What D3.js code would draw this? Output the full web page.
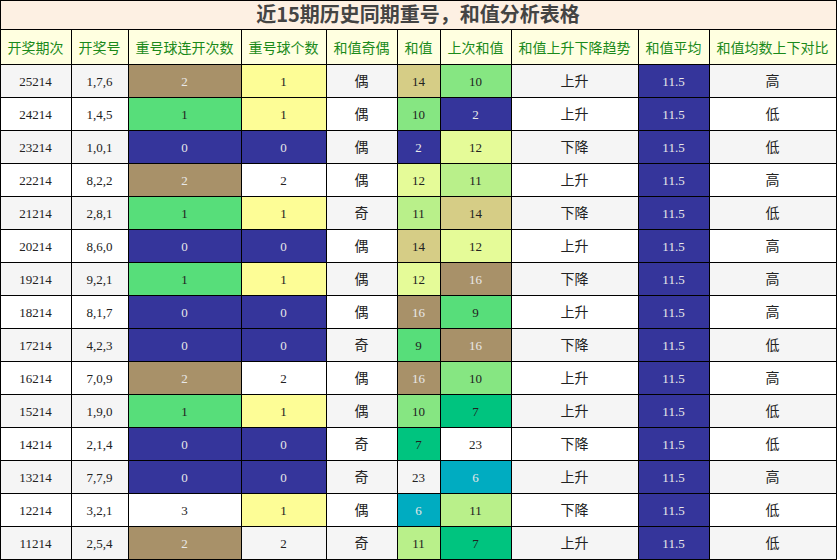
<!DOCTYPE html>
<html><head><meta charset="utf-8">
<script src="https://cdn.jsdelivr.net/npm/d3@7"></script>
<style>body{margin:0;background:#fff}</style>
</head><body>
<script>
var title = "近15期历史同期重号，和值分析表格";
var headers = ["开奖期次","开奖号","重号球连开次数","重号球个数","和值奇偶","和值","上次和值","和值上升下降趋势","和值平均","和值均数上下对比"];
var periods = ["25214","24214","23214","22214","21214","20214","19214","18214","17214","16214","15214","14214","13214","12214","11214"];
var numbers = ["1,7,6","1,4,5","1,0,1","8,2,2","2,8,1","8,6,0","9,2,1","8,1,7","4,2,3","7,0,9","1,9,0","2,1,4","7,7,9","3,2,1","2,5,4"];
var repeatRuns = [2,1,0,2,1,0,1,0,0,2,1,0,0,3,2];
var repeatCount = [1,1,0,2,1,0,1,0,0,2,1,0,0,1,2];
var parity = ["偶","偶","偶","偶","奇","偶","偶","偶","奇","偶","偶","奇","奇","偶","奇"];
var sums = [14,10,2,12,11,14,12,16,9,16,10,7,23,6,11];
var prevSums = [10,2,12,11,14,12,16,9,16,10,7,23,6,11,7];
var trend = ["上升","上升","下降","上升","下降","上升","下降","上升","下降","上升","上升","下降","上升","下降","上升"];
var avg = ["11.5","11.5","11.5","11.5","11.5","11.5","11.5","11.5","11.5","11.5","11.5","11.5","11.5","11.5","11.5"];
var compare = ["高","低","低","高","低","高","高","高","低","高","低","低","高","低","低"];

var colX = [0,71,128,241,326,397,440,511,638,709,836];
var titleH = 29, headH = 35, rowH = 33;

var runColor = {0:"#35359b",1:"#57de7a",2:"#a89169",3:null};
var cntColor = {0:"#35359b",1:"#fdfd96",2:null};
var sumColor = {2:"#35359b",6:"#00acc1",7:"#00c47f",9:"#57de7a",10:"#86e682",11:"#b9f08a",12:"#e5fb98",14:"#d6cd86",16:"#a89169",23:null};
var lightText = {"#35359b":1,"#a89169":1,"#00acc1":1};

var svg = d3.select("body").append("svg").attr("width",837).attr("height",560);

// title bar
svg.append("rect").attr("x",0.5).attr("y",0.5).attr("width",836).attr("height",titleH)
  .attr("fill","#fdf0e3").attr("stroke","#000");
svg.append("text").attr("x",418).attr("y",22).attr("text-anchor","middle")
  .attr("font-family","'Noto Sans CJK SC',sans-serif").attr("font-weight","bold")
  .attr("font-size",20).attr("fill","#444").text(title);

// header
headers.forEach(function(h,i){
  svg.append("rect").attr("x",colX[i]+0.5).attr("y",titleH+0.5)
    .attr("width",colX[i+1]-colX[i]).attr("height",headH)
    .attr("fill","#ffffe0").attr("stroke","#000");
  svg.append("text").attr("x",(colX[i]+colX[i+1])/2).attr("y",titleH+headH/2+6)
    .attr("text-anchor","middle").attr("font-family","'Noto Sans CJK SC',sans-serif")
    .attr("font-size",14).attr("fill","#1a8a1a").text(h);
});

var y = d3.scaleBand().domain(d3.range(periods.length)).range([titleH+headH, titleH+headH+rowH*periods.length]);

periods.forEach(function(p,r){
  var base = r%2===0 ? "#f5f5f5" : "#ffffff";
  var cells = [
    [p,null,false],[numbers[r],null,false],
    [repeatRuns[r],runColor[repeatRuns[r]],false],
    [repeatCount[r],cntColor[repeatCount[r]],false],
    [parity[r],null,true],
    [sums[r],sumColor[sums[r]],false],
    [prevSums[r],sumColor[prevSums[r]],false],
    [trend[r],null,true],
    [avg[r],"#35359b",false],
    [compare[r],null,true]
  ];
  cells.forEach(function(c,i){
    var fill = c[1] || base;
    svg.append("rect").attr("x",colX[i]+0.5).attr("y",y(r)+0.5)
      .attr("width",colX[i+1]-colX[i]).attr("height",y.bandwidth())
      .attr("fill",fill).attr("stroke","#000");
    svg.append("text").attr("x",(colX[i]+colX[i+1])/2).attr("y",y(r)+y.bandwidth()/2+5)
      .attr("text-anchor","middle")
      .attr("font-family", c[2] ? "'Noto Sans CJK SC',sans-serif" : "'Liberation Serif',serif")
      .attr("font-size", c[2] ? 14 : 13)
      .attr("fill", lightText[fill] ? "#e8e8e8" : "#222").text(c[0]);
  });
});
</script>
</body></html>
